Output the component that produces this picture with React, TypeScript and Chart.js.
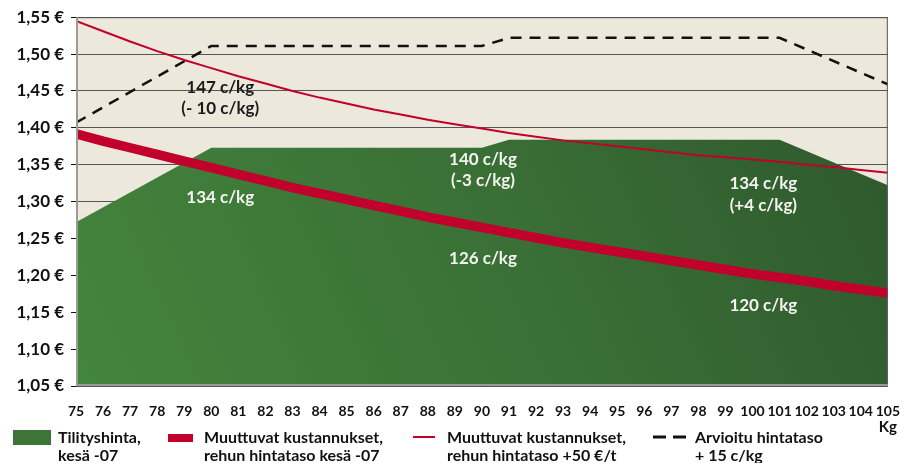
import { useEffect, useRef } from 'react';
import { Chart, registerables } from 'chart.js';

Chart.register(...registerables);

// ---- data ----
const costKg = [75, 76, 77, 78, 79, 80, 81, 82, 83, 84, 85, 86, 87, 88, 89, 90, 91, 92, 93, 94, 95, 96, 97, 98, 99, 100, 101, 102, 103, 104, 105];
const costBase = [1.392, 1.382, 1.373, 1.364, 1.355, 1.346, 1.337, 1.328, 1.319, 1.311, 1.303, 1.295, 1.287, 1.279, 1.272, 1.265, 1.258, 1.251, 1.244, 1.238, 1.232, 1.226, 1.22, 1.214, 1.208, 1.202, 1.197, 1.192, 1.186, 1.181, 1.176];
const costHigh = [1.545, 1.531, 1.517, 1.504, 1.492, 1.481, 1.47, 1.46, 1.45, 1.441, 1.433, 1.425, 1.418, 1.411, 1.405, 1.399, 1.393, 1.388, 1.383, 1.379, 1.375, 1.371, 1.367, 1.363, 1.36, 1.357, 1.354, 1.35, 1.347, 1.343, 1.339];
const payoutKg = [75, 80, 90, 91, 101, 105];
const payoutPrice = [1.272, 1.373, 1.373, 1.384, 1.384, 1.322];
const estimateKg = [75, 80, 90, 91, 101, 105];
const estimatePrice = [1.407, 1.511, 1.511, 1.522, 1.522, 1.459];

const noteTexts = ['147 c/kg', '(- 10 c/kg)', '134 c/kg', '140 c/kg', '(-3 c/kg)', '126 c/kg', '134 c/kg', '(+4 c/kg)', '120 c/kg'];
const noteKg = [80.33, 80.33, 80.33, 90.04, 90.04, 90.04, 100.4, 100.4, 100.4];
const notePrice = [1.454, 1.426, 1.305, 1.357, 1.328, 1.223, 1.324, 1.295, 1.159];
const noteOnGreen = [false, false, true, true, true, true, true, true, true];

const legendLine1 = ['Tilityshinta,', 'Muuttuvat kustannukset,', 'Muuttuvat kustannukset,', 'Arvioitu hintataso'];
const legendLine2 = ['kesä -07', 'rehun hintataso kesä -07', 'rehun hintataso +50 €/t', '+ 15 c/kg'];
const xUnit = 'Kg';

const RED = '#C1002B';
const FONT = "Lato, 'Open Sans', sans-serif";

const pts = (xs: number[], ys: number[]) => xs.map((x, i) => ({ x, y: ys[i] }));

export default function App() {
  const ref = useRef<HTMLCanvasElement | null>(null);

  useEffect(() => {
    document.body.style.margin = '0';
    const canvas = ref.current!;
    const decor = {
      id: 'decor',
      beforeDraw(chart: any) {
        const { ctx, chartArea: a } = chart;
        ctx.save();
        ctx.fillStyle = '#ffffff';
        ctx.fillRect(0, 0, chart.width, chart.height);
        ctx.fillStyle = '#ECE8DC';
        ctx.fillRect(a.left, a.top, a.right - a.left, a.bottom - a.top);
        ctx.restore();
      },
      afterDatasetsDraw(chart: any) {
        const { ctx, chartArea: a, scales } = chart;
        ctx.save();
        // frame
        ctx.strokeStyle = '#555';
        ctx.lineWidth = 1;
        ctx.beginPath();
        ctx.moveTo(a.left, a.top + 0.5);
        ctx.lineTo(a.right - 0.5, a.top + 0.5);
        ctx.lineTo(a.right - 0.5, a.bottom);
        ctx.stroke();
        ctx.strokeStyle = '#9a9a9a';
        ctx.lineWidth = 2;
        ctx.beginPath();
        ctx.moveTo(a.left + 1, a.top);
        ctx.lineTo(a.left + 1, a.bottom - 1);
        ctx.lineTo(a.right, a.bottom - 1);
        ctx.stroke();
        // notes
        ctx.font = `bold 17px ${FONT}`;
        ctx.textAlign = 'center';
        ctx.textBaseline = 'middle';
        noteTexts.forEach((t, i) => {
          ctx.fillStyle = noteOnGreen[i] ? '#f4f4f0' : '#1a1a1a';
          ctx.fillText(t, scales.x.getPixelForValue(noteKg[i]), scales.y.getPixelForValue(notePrice[i]));
        });
        ctx.restore();
      },
      afterDraw(chart: any) {
        const { ctx, scales } = chart;
        ctx.save();
        ctx.fillStyle = '#111';
        ctx.font = `bold 15px ${FONT}`;
        ctx.textAlign = 'center';
        ctx.textBaseline = 'middle';
        ctx.fillText(xUnit, scales.x.getPixelForValue(105), 427);
        // legend
        const y1 = 438, y2 = 456;
        ctx.fillStyle = '#3d7538';
        ctx.fillRect(13, 430, 38, 15);
        ctx.fillStyle = RED;
        ctx.fillRect(168, 434, 25, 8);
        ctx.strokeStyle = RED;
        ctx.lineWidth = 2;
        ctx.beginPath();
        ctx.moveTo(413, 437);
        ctx.lineTo(435, 437);
        ctx.stroke();
        ctx.strokeStyle = '#111';
        ctx.lineWidth = 3;
        ctx.beginPath();
        ctx.moveTo(653, 437);
        ctx.lineTo(666, 437);
        ctx.moveTo(673, 437);
        ctx.lineTo(686, 437);
        ctx.stroke();
        const tx = [58, 204, 447, 695];
        ctx.font = `bold 16px ${FONT}`;
        ctx.textAlign = 'left';
        ctx.fillStyle = '#111';
        tx.forEach((x, i) => {
          ctx.fillText(legendLine1[i], x, y1);
          ctx.fillText(legendLine2[i], x, y2);
        });
        ctx.restore();
      },
    };

    const chart = new Chart(canvas, {
      type: 'line',
      data: {
        datasets: [
          {
            data: pts(costKg, costHigh),
            borderColor: RED,
            borderWidth: 2,
            pointRadius: 0,
            fill: false,
            order: 1,
          },
          {
            data: pts(estimateKg, estimatePrice),
            borderColor: '#111',
            borderWidth: 2.5,
            borderDash: [11, 8],
            pointRadius: 0,
            fill: false,
            order: 2,
          },
          {
            data: pts(costKg, costBase),
            borderColor: RED,
            borderWidth: 9.5,
            pointRadius: 0,
            fill: false,
            order: 3,
          },
          {
            data: pts(payoutKg, payoutPrice),
            borderWidth: 0,
            borderColor: 'rgba(0,0,0,0)',
            pointRadius: 0,
            fill: 'start',
            order: 4,
            backgroundColor: (c: any) => {
              const a = c.chart.chartArea;
              if (!a) return '#3a6f36';
              const g = c.chart.ctx.createLinearGradient(a.left, a.bottom, a.right, a.top);
              g.addColorStop(0, '#44853d');
              g.addColorStop(0.5, '#3a7036');
              g.addColorStop(1, '#2d562c');
              return g;
            },
          },
        ],
      },
      options: {
        animation: false,
        responsive: false,
        layout: { padding: { top: 16, right: 14, left: 0, bottom: 0 } },
        plugins: { legend: { display: false }, tooltip: { enabled: false } },
        scales: {
          x: {
            type: 'linear',
            min: 75,
            max: 105,
            afterFit: (s: any) => { s.height = 77; },
            grid: { display: false },
            border: { display: false },
            ticks: {
              stepSize: 1,
              autoSkip: false,
              maxRotation: 0,
              padding: 9,
              color: '#111',
              font: { family: FONT, size: 14, weight: 'bold' },
              callback: (v: any) => String(v),
            },
          },
          y: {
            min: 1.05,
            max: 1.55,
            afterFit: (s: any) => { s.width = 76; },
            grid: { color: '#555', lineWidth: 1, tickLength: 5, tickColor: '#111', drawTicks: true },
            border: { display: false },
            ticks: {
              stepSize: 0.05,
              padding: 7,
              color: '#111',
              font: { family: FONT, size: 17, weight: 'bold' },
              callback: (v: any) => Number(v).toFixed(2).replace('.', ',') + ' €',
            },
          },
        },
      },
      plugins: [decor],
    });
    return () => chart.destroy();
  }, []);

  return (
    <div style={{ width: 909, height: 463 }}>
      <canvas ref={ref} width={909} height={463} style={{ display: 'block' }} />
    </div>
  );
}
